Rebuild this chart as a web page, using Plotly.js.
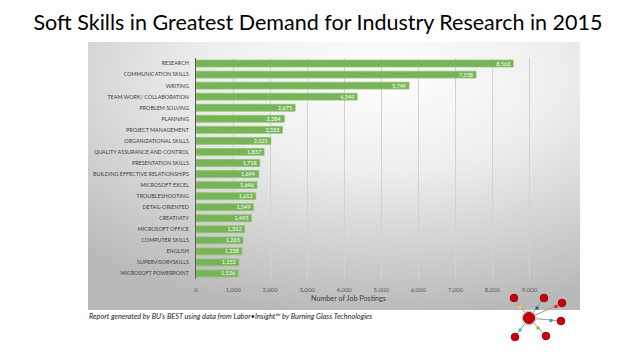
<!DOCTYPE html>
<html><head><meta charset="utf-8">
<script src="https://cdn.plot.ly/plotly-3.0.1.min.js"></script>
<style>html,body{margin:0;padding:0;background:#fff}#c{width:636px;height:358px}</style>
</head><body><div id="c"></div>
<script>
const skills = ["RESEARCH","COMMUNICATION SKILLS","WRITING","TEAM WORK/ COLLABORATION","PROBLEM SOLVING","PLANNING","PROJECT MANAGEMENT","ORGANIZATIONAL SKILLS","QUALITY ASSURANCE AND CONTROL","PRESENTATION SKILLS","BUILDING EFFECTIVE RELATIONSHIPS","MICROSOFT EXCEL","TROUBLESHOOTING","DETAIL-ORIENTED","CREATIVITY","MICROSOFT OFFICE","COMPUTER SKILLS","ENGLISH","SUPERVISORYSKILLS","MICROSOFT POWERPOINT"];
const postings = [8563,7558,5749,4349,2675,2384,2333,2021,1837,1718,1694,1646,1612,1549,1495,1312,1265,1238,1153,1136];
const xTicks = [0,1000,2000,3000,4000,5000,6000,7000,8000,9000];
const xTickLabels = ["0","1,000","2,000","3,000","4,000","5,000","6,000","7,000","8,000","9,000"];

const W=636,H=358, L=196, R=548, T=58, B=279;
const px = x => (x-L)/(R-L);
const py = y => (B-y)/(B-T);

const bgSvg = `<svg xmlns="http://www.w3.org/2000/svg" width="492" height="268" preserveAspectRatio="none"><defs><radialGradient id="g" cx="0.6" cy="0.12" r="0.9"><stop offset="0" stop-color="#ffffff"/><stop offset="0.4" stop-color="#eeeeee"/><stop offset="1" stop-color="#b9b9b9"/></radialGradient></defs><rect width="492" height="268" fill="url(#g)"/></svg>`;

const shapes = [];
const hub=[529,318];
const nodes=[[514,298],[544,298],[562,303],[561,321],[546,336],[515,337]];
const sq=[[520,307,"#f2d23c"],[537,308,"#2f5f6e"],[556,306.5,"#e8201e"],[551,320.5,"#3a9ad9"],[538,328,"#7ac943"],[520,330,"#2ec4a0"]];
nodes.forEach(n=>shapes.push({type:"line",xref:"paper",yref:"paper",x0:px(hub[0]),y0:py(hub[1]),x1:px(n[0]),y1:py(n[1]),line:{color:"#9a9a9a",width:1}}));
function circ(cx,cy,r,fill,lc){shapes.push({type:"circle",xref:"paper",yref:"paper",x0:px(cx-r),x1:px(cx+r),y0:py(cy+r),y1:py(cy-r),fillcolor:fill,line:{color:lc,width:1}});}
circ(hub[0],hub[1],7,"#d9d9d9","#bbbbbb");
circ(hub[0],hub[1],5.5,"#c8000a","#a00008");
nodes.forEach(n=>circ(n[0],n[1],3.8,"#c8000a","#a00008"));
sq.forEach(s=>shapes.push({type:"rect",xref:"paper",yref:"paper",x0:px(s[0]-1.5),x1:px(s[0]+1.5),y0:py(s[1]+1.5),y1:py(s[1]-1.5),fillcolor:s[2],line:{width:0}}));

const trace = {
  type:"bar", orientation:"h", y:skills, x:postings,
  marker:{color:"#77b457", line:{color:"#8cc46d", width:0.8}},
  text:postings.map(v=>v.toLocaleString("en-US")),
  textposition:"inside", insidetextanchor:"end", constraintext:"none",
  textfont:{family:"Lato, sans-serif", size:5.5, color:"#ffffff"},
  cliponaxis:false, width:0.62, hoverinfo:"skip"
};

const layout = {
  width:W, height:H, margin:{l:L, r:W-R, t:T, b:H-B, pad:0},
  paper_bgcolor:"#ffffff", plot_bgcolor:"rgba(0,0,0,0)",
  showlegend:false,
  font:{family:"Lato, sans-serif"},
  title:{text:"Soft Skills in Greatest Demand for Industry Research in 2015", x:0.5, xref:"container", xanchor:"center", y:1-22/H, yref:"container", yanchor:"middle", font:{family:"Lato, sans-serif", size:21.5, color:"#000"}},
  xaxis:{range:[0,9500], tickvals:xTicks, ticktext:xTickLabels, showgrid:true, gridcolor:"#d2d2d2", gridwidth:1, zeroline:false, showline:false, ticks:"", tickfont:{size:6, color:"#595959"}, ticklabelstandoff:6, fixedrange:true},
  yaxis:{autorange:"reversed", showgrid:false, zeroline:false, showline:true, linecolor:"#595959", linewidth:1, ticks:"", tickfont:{size:5.4, color:"#404040"}, ticklabelstandoff:5, fixedrange:true},
  images:[{source:"data:image/svg+xml;charset=utf-8,"+encodeURIComponent(bgSvg), xref:"paper", yref:"paper", x:px(88), y:py(42), sizex:px(580)-px(88), sizey:py(42)-py(310), xanchor:"left", yanchor:"top", sizing:"stretch", layer:"below"}],
  shapes:shapes,
  annotations:[
    {text:"Number of Job Postings", xref:"paper", yref:"paper", x:px(348), y:py(298), xanchor:"center", yanchor:"middle", showarrow:false, font:{size:7.2, color:"#404040"}},
    {text:"<i>Report generated by BU’s BEST using data from Labor•Insight™ by Burning Glass Technologies</i>", xref:"paper", yref:"paper", x:px(87), y:py(316), xanchor:"left", yanchor:"middle", showarrow:false, font:{size:7.3, color:"#222"}}
  ],
  bargap:0.38
};
Plotly.newPlot("c",[trace],layout,{displayModeBar:false,staticPlot:true});
</script></body></html>
